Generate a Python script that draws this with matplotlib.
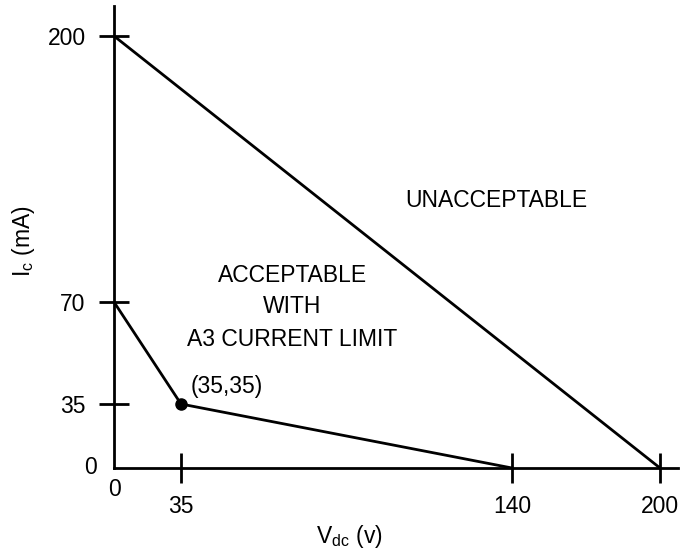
import matplotlib.pyplot as plt
import numpy as np

plt.rcParams['font.family'] = ['Liberation Sans', 'DejaVu Sans']
plt.rcParams['mathtext.fontset'] = 'custom'
plt.rcParams['mathtext.rm'] = 'Liberation Sans'
plt.rcParams['mathtext.it'] = 'Liberation Sans:italic'

# --- data (schematic diagram, values in volts / mA) ---
outer_v = [0, 200]
outer_i = [200, 0]
limit_v = [0, 35, 140]
limit_i = [70, 35, 0]
corner = (35, 35)
x_ticks = [35, 140, 200]
y_ticks = [35, 70, 200]

# the drawing is not to scale: piecewise-linear axis mapping
x_data = [0, 35, 140, 200, 400]
x_pos = [0, 67, 398, 546, 1092]
y_data = [0, 35, 70, 200, 400]
y_pos = [0, 64, 166, 432, 841]


def x_fwd(v):
    return np.interp(v, x_data, x_pos)


def x_inv(p):
    return np.interp(p, x_pos, x_data)


def y_fwd(v):
    return np.interp(v, y_data, y_pos)


def y_inv(p):
    return np.interp(p, y_pos, y_data)


FS = 16.5
lw = 2.0

fig = plt.figure(figsize=(6.86, 5.54), dpi=100)
ax = fig.add_axes([114 / 686, 86 / 554, 564 / 686, 462 / 554])
ax.set_xscale('function', functions=(x_fwd, x_inv))
ax.set_yscale('function', functions=(y_fwd, y_inv))
ax.set_xlim(0, float(x_inv(564)))
ax.set_ylim(0, float(y_inv(462)))

ax.plot(outer_v, outer_i, color='black', lw=lw, solid_capstyle='butt')
ax.plot(limit_v, limit_i, color='black', lw=lw)
ax.plot([corner[0]], [corner[1]], 'o', color='black', markersize=8)

for s in ['top', 'right']:
    ax.spines[s].set_visible(False)
for s in ['left', 'bottom']:
    ax.spines[s].set_linewidth(lw)

ax.set_xticks(x_ticks)
ax.set_xticklabels([str(t) for t in x_ticks])
ax.set_yticks(y_ticks)
ax.set_yticklabels([str(t) for t in y_ticks])
ax.xaxis.set_minor_locator(plt.NullLocator())
ax.yaxis.set_minor_locator(plt.NullLocator())
ax.tick_params(direction='inout', length=21, width=lw, labelsize=FS)
ax.tick_params(axis='x', pad=9)
ax.tick_params(axis='y', pad=10)

# zero labels at the origin (no tick marks there)
ax.annotate('0', xy=(0, 0), xytext=(0.3, -15.5), textcoords='offset points',
            ha='center', va='center', fontsize=FS)
ax.annotate('0', xy=(0, 0), xytext=(-12, 0), textcoords='offset points',
            ha='right', va='center', fontsize=FS)
ax.annotate('(35,35)', xy=corner, xytext=(7, 8), textcoords='offset points',
            ha='left', va='baseline', fontsize=FS)

ax.text(0.677, 0.565, 'UNACCEPTABLE', transform=ax.transAxes,
        ha='center', va='baseline', fontsize=FS)
ax.text(0.3174, 0.4026, 'ACCEPTABLE', transform=ax.transAxes,
        ha='center', va='baseline', fontsize=FS)
ax.text(0.3165, 0.3355, 'WITH', transform=ax.transAxes,
        ha='center', va='baseline', fontsize=FS)
ax.text(0.3165, 0.263, 'A3 CURRENT LIMIT', transform=ax.transAxes,
        ha='center', va='baseline', fontsize=FS)

ax.set_xlabel(r'V$_{\mathrm{dc}}$ (v)', fontsize=FS)
ax.xaxis.label.set_va('baseline')
ax.xaxis.set_label_coords(0.417, -0.162)
ax.set_ylabel(r'I$_{\mathrm{c}}$ (mA)', fontsize=FS)
ax.yaxis.set_label_coords(-0.137, 0.491)

fig.savefig('out.png', dpi=100)
